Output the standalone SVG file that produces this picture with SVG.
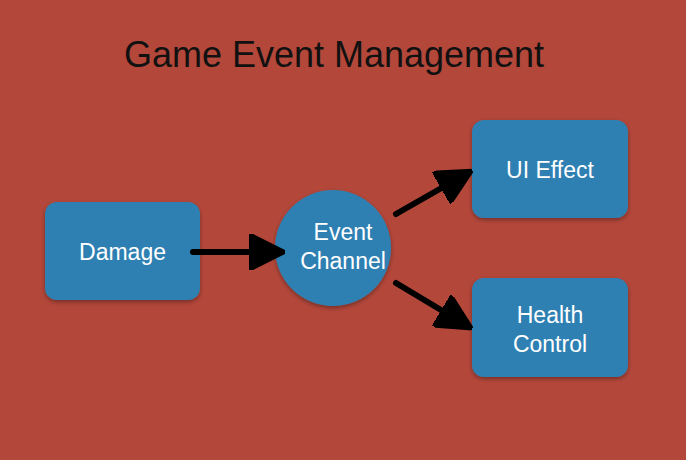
<svg xmlns="http://www.w3.org/2000/svg" width="686" height="460" viewBox="0 0 686 460">
<defs>
<style>
.box{fill:#2F80B2;filter:url(#sh)}
.lbl{font-family:"Liberation Sans","Helvetica",sans-serif;font-size:23px;fill:#ffffff;text-anchor:middle}
.title{font-family:"Liberation Sans","Helvetica",sans-serif;font-size:36px;fill:#111111;text-anchor:middle}
.conn{stroke:#000;stroke-width:6;stroke-linecap:round;fill:none}
</style>
<filter id="sh" x="-20%" y="-20%" width="140%" height="140%">
<feDropShadow dx="0" dy="2" stdDeviation="2" flood-color="#000" flood-opacity="0.35"/>
</filter>
<marker id="ah" viewBox="0 0 10 10" refX="8" refY="5" markerWidth="6" markerHeight="6" orient="auto" markerUnits="strokeWidth">
<path d="M0,0 L10,5 L0,10 Z" fill="#000" stroke="#000" stroke-width="1" stroke-linejoin="round"/>
</marker>
</defs>
<rect width="686" height="460" fill="#B3473A"/>
<text class="title" x="334" y="67">Game Event Management</text>
<g id="damage">
<rect class="box" x="45" y="202" width="155" height="98" rx="12"/>
<text class="lbl" x="122.5" y="260">Damage</text>
</g>
<g id="event-channel">
<circle class="box" cx="333" cy="248" r="58"/>
<text class="lbl" x="343" y="240">Event</text>
<text class="lbl" x="343" y="269">Channel</text>
</g>
<g id="ui-effect">
<rect class="box" x="472" y="120" width="156" height="98" rx="12"/>
<text class="lbl" x="550" y="178">UI Effect</text>
</g>
<g id="health-control">
<rect class="box" x="472" y="278" width="156" height="99" rx="12"/>
<text class="lbl" x="550" y="323">Health</text>
<text class="lbl" x="550" y="352">Control</text>
</g>
<g id="connectors">
<line class="conn" x1="193" y1="252" x2="278" y2="252" marker-end="url(#ah)"/>
<line class="conn" x1="396" y1="214" x2="466" y2="174" marker-end="url(#ah)"/>
<line class="conn" x1="396" y1="283" x2="466" y2="325" marker-end="url(#ah)"/>
</g>
</svg>
